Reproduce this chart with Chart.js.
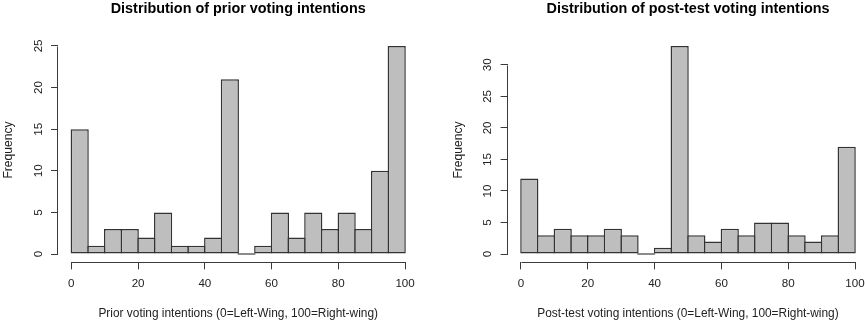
<!DOCTYPE html>
<html>
<head>
<meta charset="utf-8">
<script src="https://cdn.jsdelivr.net/npm/chart.js@4.4.0/dist/chart.umd.min.js"></script>
<style>
  html, body { margin: 0; padding: 0; background: #fff; overflow: hidden; }
  #wrap { position: relative; width: 865px; height: 321px; overflow: hidden; }
  canvas { position: absolute; top: 0; }
</style>
</head>
<body>
<div id="wrap">
  <canvas id="prior" width="432" height="321" style="left:0"></canvas>
  <canvas id="post" width="445" height="321" style="left:432px"></canvas>
</div>
<script>
// bin midpoints (bins of width 5 from 0 to 100)
const binMids = [2.5, 7.5, 12.5, 17.5, 22.5, 27.5, 32.5, 37.5, 42.5, 47.5,
                 52.5, 57.5, 62.5, 67.5, 72.5, 77.5, 82.5, 87.5, 92.5, 97.5];
const priorCounts = [15, 1, 3, 3, 2, 5, 1, 1, 2, 21, 0, 1, 5, 2, 5, 3, 5, 3, 10, 25];
const postCounts = [12, 3, 4, 3, 3, 4, 3, 0, 1, 33, 3, 2, 4, 3, 5, 5, 3, 2, 3, 17];
const xTicks = [0, 20, 40, 60, 80, 100];
const priorYTicks = [0, 5, 10, 15, 20, 25];
const postYTicks = [0, 5, 10, 15, 20, 25, 30];

const FONT = "'Liberation Sans', Arial, Helvetica, sans-serif";
Chart.defaults.font.family = FONT;
Chart.defaults.color = "#222";

// R style detached axes: line only from first to last tick
const rAxes = {
  id: "rAxes",
  afterDraw(chart) {
    const { ctx, chartArea, scales } = chart;
    const x = scales.x, y = scales.y;
    const xt = x.ticks, yt = y.ticks;
    ctx.save();
    ctx.strokeStyle = "#3a3a3a";
    ctx.lineWidth = 1;
    ctx.beginPath();
    const by = Math.round(chartArea.bottom) + 0.5;
    ctx.moveTo(Math.round(x.getPixelForValue(xt[0].value)) + 0.5, by);
    ctx.lineTo(Math.round(x.getPixelForValue(xt[xt.length - 1].value)) + 0.5, by);
    const lx = Math.round(chartArea.left) - 0.5;
    ctx.moveTo(lx, Math.round(y.getPixelForValue(yt[0].value)) + 0.5);
    ctx.lineTo(lx, Math.round(y.getPixelForValue(yt[yt.length - 1].value)) + 0.5);
    ctx.stroke();
    ctx.restore();
  }
};

function makeHist(id, title, xLabel, counts, yTicks, axisW, padRight, freqPad) {
  const H = 321;
  const plotTop = 37.6, plotBottom = 262.4;
  const yHi = Math.max(...counts);
  const data = binMids.map((m, i) => ({ x: m, y: counts[i] }));

  new Chart(document.getElementById(id), {
    type: "bar",
    data: {
      datasets: [{
        data: data,
        backgroundColor: "#bebebe",
        borderColor: "#333",
        borderWidth: 1.5,
        borderSkipped: false,
        minBarLength: 1.5,
        barPercentage: 1.09,
        categoryPercentage: 1
      }]
    },
    options: {
      responsive: false,
      animation: false,
      devicePixelRatio: 1,
      layout: { padding: { left: 0, right: padRight, top: 0, bottom: 0 } },
      plugins: {
        legend: { display: false },
        tooltip: { enabled: false },
        title: {
          display: true,
          text: title,
          fullSize: false,
          color: "#000",
          font: { family: FONT, size: 14.4, weight: "bold" },
          padding: { top: 0.3, bottom: plotTop - 17.28 - 0.3 }
        }
      },
      scales: {
        x: {
          type: "linear",
          min: -4,
          max: 104,
          offset: false,
          afterBuildTicks: (s) => { s.ticks = xTicks.map(v => ({ value: v })); },
          afterFit: (s) => { s.height = H - plotBottom; },
          grid: { offset: false, drawOnChartArea: false, drawTicks: true, tickLength: 7, color: "#3a3a3a" },
          border: { display: false },
          ticks: { padding: 7, font: { size: 11.6 }, color: "#222", maxRotation: 0 },
          title: {
            display: true,
            text: xLabel,
            color: "#222",
            font: { size: 11.9 },
            padding: { top: 0, bottom: 0.6 }
          }
        },
        y: {
          type: "linear",
          min: -0.04 * yHi,
          max: 1.04 * yHi,
          afterBuildTicks: (s) => { s.ticks = yTicks.map(v => ({ value: v })); },
          afterFit: (s) => { s.width = axisW; },
          grid: { drawOnChartArea: false, drawTicks: true, tickLength: 7, color: "#3a3a3a" },
          border: { display: false },
          ticks: { padding: 6, font: { size: 11.6 }, color: "#222", minRotation: 90, maxRotation: 90, crossAlign: "center" },
          title: {
            display: true,
            text: "Frequency",
            color: "#222",
            font: { size: 12.1 },
            padding: { top: freqPad, bottom: 0 }
          }
        }
      }
    },
    plugins: [rAxes]
  });
}

makeHist("prior", "Distribution of prior voting intentions",
  "Prior voting intentions (0=Left-Wing, 100=Right-wing)",
  priorCounts, priorYTicks, 58, 13.6, 1.0);
makeHist("post", "Distribution of post-test voting intentions",
  "Post-test voting intentions (0=Left-Wing, 100=Right-wing)",
  postCounts, postYTicks, 75.6, 8.6, 19.4);
</script>
</body>
</html>
